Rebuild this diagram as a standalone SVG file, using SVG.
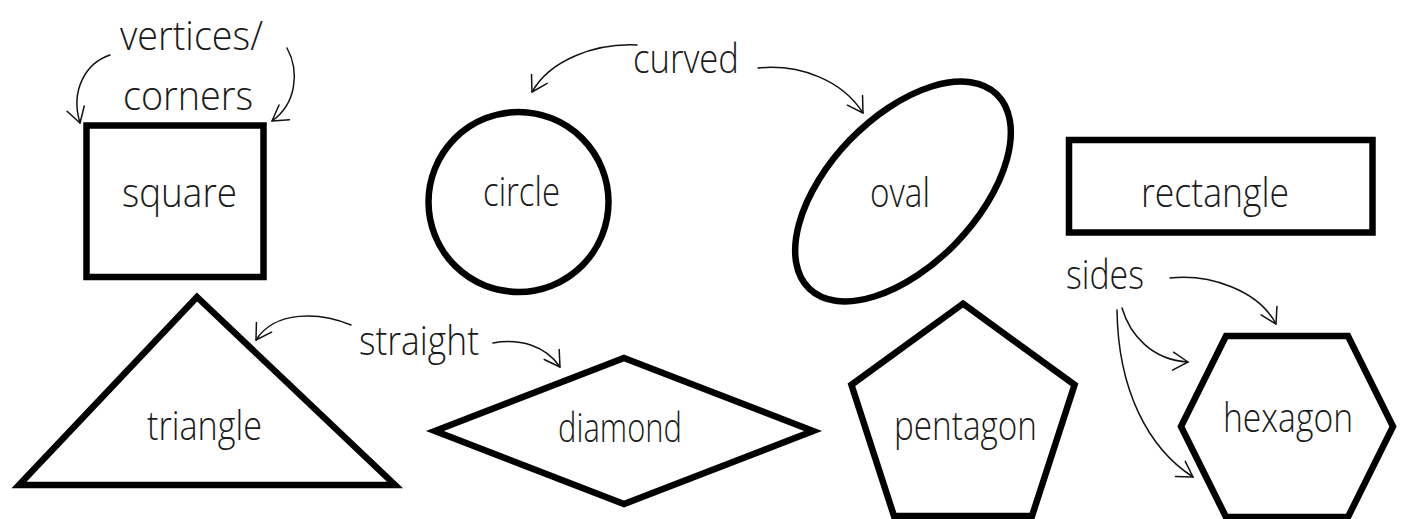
<svg xmlns="http://www.w3.org/2000/svg" width="1402" height="519" viewBox="0 0 1402 519">
<style>
.shape{fill:none;stroke:#000;stroke-width:6.5;stroke-linejoin:miter;stroke-miterlimit:10}
.lbl{font-family:"Open Sans","Noto Sans","Liberation Sans",sans-serif;font-weight:300;font-size:40px;fill:#1a1a1a}
.conn{fill:none;stroke:#111;stroke-width:1.5;stroke-linecap:round}
</style>
<defs>
<marker id="ah" markerUnits="userSpaceOnUse" markerWidth="24" markerHeight="24" viewBox="-20 -12 24 24" refX="0" refY="0" orient="auto">
<path d="M-15,-9 L0,0 L-15,9" fill="none" stroke="#111" stroke-width="1.5" stroke-linecap="round" stroke-linejoin="round"/>
</marker>
</defs>
<rect width="1402" height="519" fill="#fff"/>

<g id="square">
<rect class="shape" x="86.5" y="125.5" width="177" height="151.5"/>
<text class="lbl" x="122" y="207" textLength="115" lengthAdjust="spacingAndGlyphs">square</text>
</g>
<g id="circle">
<circle class="shape" cx="518.5" cy="202" r="90"/>
<text class="lbl" x="483" y="206" textLength="77" lengthAdjust="spacingAndGlyphs">circle</text>
</g>
<g id="oval">
<ellipse class="shape" cx="903" cy="191.5" rx="135" ry="74" transform="rotate(-46 903 191.5)"/>
<text class="lbl" x="870" y="207" textLength="60" lengthAdjust="spacingAndGlyphs">oval</text>
</g>
<g id="rectangle">
<rect class="shape" x="1069" y="140" width="303.5" height="92.5"/>
<text class="lbl" x="1141" y="207" textLength="148" lengthAdjust="spacingAndGlyphs">rectangle</text>
</g>
<g id="triangle">
<polygon class="shape" points="197,297 19,485 395,485"/>
<text class="lbl" x="147" y="440" textLength="115" lengthAdjust="spacingAndGlyphs">triangle</text>
</g>
<g id="diamond">
<polygon class="shape" points="624,358 813,431 624,504 435,431"/>
<text class="lbl" x="558" y="442" textLength="124" lengthAdjust="spacingAndGlyphs">diamond</text>
</g>
<g id="pentagon">
<polygon class="shape" points="963,303.7 1074.6,384.8 1032,516 894,516 851.4,384.8"/>
<text class="lbl" x="894" y="440" textLength="143" lengthAdjust="spacingAndGlyphs">pentagon</text>
</g>
<g id="hexagon">
<polygon class="shape" points="1226,336 1348,336 1393,426.5 1348,517 1226,517 1181,426.5"/>
<text class="lbl" x="1223" y="432" textLength="130" lengthAdjust="spacingAndGlyphs">hexagon</text>
</g>

<g id="label-vertices">
<text class="lbl" x="120" y="50" textLength="143" lengthAdjust="spacingAndGlyphs">vertices/</text>
<text class="lbl" x="123" y="110" textLength="130" lengthAdjust="spacingAndGlyphs">corners</text>
</g>
<g id="label-curved">
<text class="lbl" x="633" y="73" textLength="106" lengthAdjust="spacingAndGlyphs">curved</text>
</g>
<g id="label-straight">
<text class="lbl" x="359" y="355" textLength="120" lengthAdjust="spacingAndGlyphs">straight</text>
</g>
<g id="label-sides">
<text class="lbl" x="1066" y="289" textLength="78" lengthAdjust="spacingAndGlyphs">sides</text>
</g>

<g id="connectors">
<path class="conn" marker-end="url(#ah)" d="M110,55 C86,63 70,90 80,123"/>
<path class="conn" marker-end="url(#ah)" d="M287,48 C300,72 296,104 272,121"/>
<path class="conn" marker-end="url(#ah)" d="M637,45 C595,43 550,60 532,92"/>
<path class="conn" marker-end="url(#ah)" d="M758,68 C800,64 842,80 863,113"/>
<path class="conn" marker-end="url(#ah)" d="M351,325 C320,312 275,310 256,340"/>
<path class="conn" marker-end="url(#ah)" d="M493,343 C520,338 546,346 560,367"/>
<path class="conn" marker-end="url(#ah)" d="M1170,278 C1210,274 1258,290 1276,324"/>
<path class="conn" marker-end="url(#ah)" d="M1122,308 C1130,335 1152,360 1188,362"/>
<path class="conn" marker-end="url(#ah)" d="M1117,310 C1118,390 1148,448 1193,477"/>
</g>
</svg>
